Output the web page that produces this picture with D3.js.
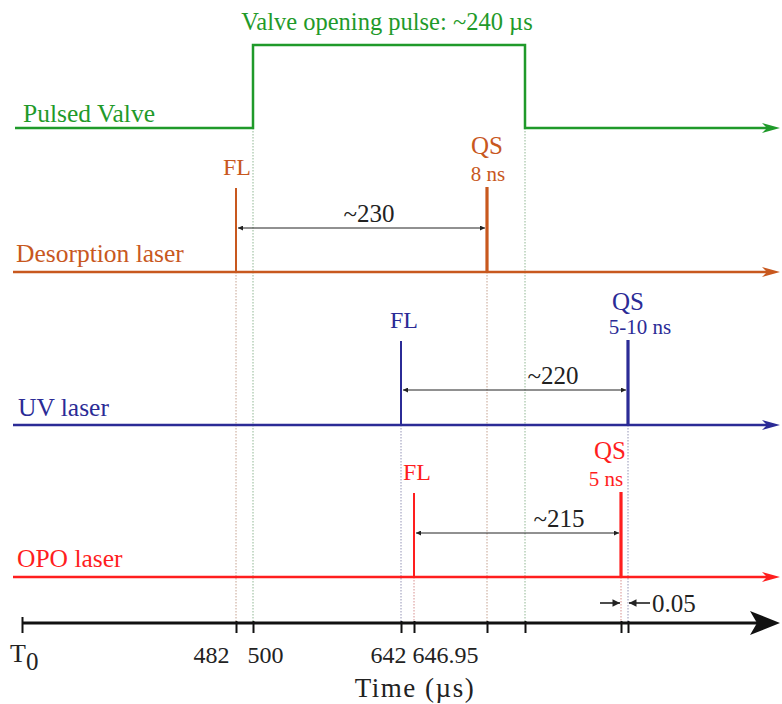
<!DOCTYPE html>
<html>
<head>
<meta charset="utf-8">
<script src="https://cdn.jsdelivr.net/npm/d3@7"></script>
<style>
  body { margin: 0; background: #fff; }
  text { font-family: "Liberation Serif", "Times New Roman", serif; }
</style>
</head>
<body>
<div id="chart"></div>
<script>
// channels, top to bottom
const channels = ["Pulsed Valve", "Desorption laser", "UV laser", "OPO laser"];
const channelColors = ["#1f9a2a", "#c8581e", "#2b2b96", "#ff1e1e"];

// valve pulse (µs)
const valveOpen = 500;
const valveWidth = 240;

// lasers: flash lamp time, Q-switch delay, Q-switch width
const lasers = ["Desorption laser", "UV laser", "OPO laser"];
const flTimes = [482, 642, 646.95];
const qsDelays = [230, 220, 215];
const qsWidths = ["8 ns", "5-10 ns", "5 ns"];

// time axis
const tickTimes = [0, 482, 500, 642, 646.95, 712, 740, 861.95, 862];
const tickLabels = ["", "482", "500", "642", "646.95", "", "", "", ""];

const width = 782, height = 704;

// diagram is not to scale: piecewise time scale
const x = d3.scaleLinear()
    .domain([0, 482, 500, 642, 646.95, 712, 740, 861.95, 862, 950])
    .range([22, 236, 253, 401, 414, 487, 525, 621, 628, 780]);

const y = d3.scaleOrdinal().domain(channels).range([128, 272, 425, 577]);
const color = d3.scaleOrdinal().domain(channels).range(channelColors);
const pulseHeight = 84;
const axisY = 623;

const svg = d3.create("svg")
    .attr("width", width)
    .attr("height", height)
    .attr("viewBox", [0, 0, width, height]);

svg.append("defs").append("marker")
    .attr("id", "arr")
    .attr("viewBox", "0 0 10 10")
    .attr("refX", 10).attr("refY", 5)
    .attr("markerWidth", 6).attr("markerHeight", 5)
    .attr("orient", "auto-start-reverse")
  .append("path")
    .attr("d", "M0,0L10,5L0,10Z")
    .attr("fill", "#222");

// dotted guide lines from each event down to the axis
const guides = [
  { t: valveOpen, c: channels[0] },
  { t: valveOpen + valveWidth, c: channels[0] }
];
lasers.forEach((l, i) => {
  guides.push({ t: flTimes[i], c: l });
  guides.push({ t: flTimes[i] + qsDelays[i], c: l });
});

svg.append("g")
  .selectAll("line")
  .data(guides)
  .join("line")
    .attr("x1", d => x(d.t)).attr("x2", d => x(d.t))
    .attr("y1", d => y(d.c)).attr("y2", axisY)
    .attr("stroke", d => d3.interpolateRgb(color(d.c), "#999")(0.55))
    .attr("stroke-width", 1)
    .attr("stroke-dasharray", "1.5,1.5")
    .attr("opacity", 0.7);

function headPath(tip, yy, len, half, notch) {
  return `M${tip},${yy}L${tip - len},${yy - half}L${tip - notch},${yy}L${tip - len},${yy + half}Z`;
}

// baselines with arrowheads
const xEnd = x(950);
channels.forEach(c => {
  const y0 = y(c);
  let d;
  if (c === "Pulsed Valve") {
    d = `M${x(0) - 7},${y0}H${x(valveOpen)}V${y0 - pulseHeight + 1}H${x(valveOpen + valveWidth)}V${y0}H${xEnd - 8}`;
  } else {
    d = `M${x(0) - 9},${y0}H${xEnd - 8}`;
  }
  svg.append("path")
    .attr("d", d)
    .attr("fill", "none")
    .attr("stroke", color(c))
    .attr("stroke-width", 2.5);
  svg.append("path")
    .attr("d", headPath(xEnd, y0, 18, 5, 13))
    .attr("fill", color(c));
});

// channel labels
const labelX = [23, 16, 18, 17];
svg.append("g")
  .selectAll("text")
  .data(channels)
  .join("text")
    .attr("x", (d, i) => labelX[i])
    .attr("y", d => y(d) - (d === "UV laser" ? 9 : d === "Pulsed Valve" ? 6 : 10))
    .attr("fill", d => color(d))
    .attr("font-size", 25.5)
    .text(d => d);

// valve title
svg.append("text")
    .attr("x", (x(valveOpen) + x(valveOpen + valveWidth)) / 2 - 2)
    .attr("y", 30)
    .attr("text-anchor", "middle")
    .attr("fill", color(channels[0]))
    .attr("font-size", 24.5)
    .text(`Valve opening pulse: ~${valveWidth} µs`);

// laser pulses
const measureOffset = [44, 35, 44];
const measureFrac = [0.53, 0.67, 0.7];
const qsDx = [0, 0, -11];
const nsDx = [1, 12, -15];
const qsDy = [34, 31, 34];

lasers.forEach((l, i) => {
  const y0 = y(l);
  const fl = flTimes[i];
  const qs = fl + qsDelays[i];
  const c = color(l);
  const g = svg.append("g");

  g.append("line")
    .attr("x1", x(fl)).attr("x2", x(fl))
    .attr("y1", y0).attr("y2", y0 - pulseHeight)
    .attr("stroke", c).attr("stroke-width", 2);
  g.append("line")
    .attr("x1", x(qs)).attr("x2", x(qs))
    .attr("y1", y0).attr("y2", y0 - pulseHeight - 1)
    .attr("stroke", c).attr("stroke-width", 3.2);

  g.append("text")
    .attr("x", x(fl) + (i === 0 ? 1 : 3))
    .attr("y", y0 - pulseHeight - 13)
    .attr("text-anchor", "middle")
    .attr("fill", c).attr("font-size", 24)
    .text("FL");
  g.append("text")
    .attr("x", x(qs) + qsDx[i])
    .attr("y", y0 - pulseHeight - qsDy[i])
    .attr("text-anchor", "middle")
    .attr("fill", c).attr("font-size", 25)
    .text("QS");
  g.append("text")
    .attr("x", x(qs) + nsDx[i])
    .attr("y", y0 - pulseHeight - 7)
    .attr("text-anchor", "middle")
    .attr("fill", c).attr("font-size", 21)
    .text(qsWidths[i]);

  // delay arrow
  const ym = y0 - measureOffset[i];
  g.append("line")
    .attr("x1", x(fl) + 2).attr("x2", x(qs) - 2)
    .attr("y1", ym).attr("y2", ym)
    .attr("stroke", "#222").attr("stroke-width", 1)
    .attr("marker-start", "url(#arr)")
    .attr("marker-end", "url(#arr)");
  g.append("text")
    .attr("x", x(fl) + (x(qs) - x(fl)) * measureFrac[i])
    .attr("y", ym - 6)
    .attr("text-anchor", "middle")
    .attr("fill", "#222").attr("font-size", 25)
    .text(`~${qsDelays[i]}`);
});

// time axis
const axis = d3.axisBottom(x)
    .tickValues(tickTimes)
    .tickFormat((d, i) => tickLabels[i])
    .tickSize(10);

const tickDx = [0, -25, 12, -13, 31, 0, 0, 0, 0];
const ax = svg.append("g")
    .attr("transform", `translate(0,${axisY})`)
    .call(axis);
ax.select(".domain").remove();
ax.selectAll(".tick line")
    .attr("y1", d => d === 0 ? -6 : -2)
    .attr("y2", 10)
    .attr("stroke", "#111")
    .attr("stroke-width", 2);
ax.selectAll(".tick text")
    .attr("y", 40).attr("dy", 0)
    .attr("dx", (d, i) => tickDx[i])
    .attr("fill", "#222")
    .attr("font-size", 24)
    .attr("font-family", "Liberation Serif, serif");

svg.append("line")
    .attr("x1", x(0)).attr("x2", xEnd - 20)
    .attr("y1", axisY).attr("y2", axisY)
    .attr("stroke", "#111").attr("stroke-width", 3);
svg.append("path")
    .attr("d", headPath(xEnd, axisY, 30, 12, 23))
    .attr("fill", "#111");

const t0 = svg.append("text")
    .attr("x", 10).attr("y", 662)
    .attr("fill", "#222").attr("font-size", 26)
    .text("T");
t0.append("tspan").attr("dy", 8).attr("font-size", 25).text("0");

svg.append("text")
    .attr("x", 415).attr("y", 697)
    .attr("text-anchor", "middle")
    .attr("fill", "#222").attr("font-size", 27)
    .attr("letter-spacing", 1.5)
    .text("Time (µs)");

// 0.05 µs gap between OPO and UV Q-switch
const qsOpo = flTimes[2] + qsDelays[2];
const qsUv = flTimes[1] + qsDelays[1];
svg.append("line")
    .attr("x1", x(qsOpo) - 21).attr("x2", x(qsOpo) - 1)
    .attr("y1", 603).attr("y2", 603)
    .attr("stroke", "#111").attr("stroke-width", 1.5)
    .attr("marker-end", "url(#arr)");
svg.append("line")
    .attr("x1", x(qsUv) + 22).attr("x2", x(qsUv) + 1)
    .attr("y1", 603).attr("y2", 603)
    .attr("stroke", "#111").attr("stroke-width", 1.5)
    .attr("marker-end", "url(#arr)");
svg.append("text")
    .attr("x", x(qsUv) + 24).attr("y", 612)
    .attr("fill", "#222").attr("font-size", 25)
    .text(d3.format(".2f")(qsUv - qsOpo));

document.getElementById("chart").appendChild(svg.node());
</script>
</body>
</html>
